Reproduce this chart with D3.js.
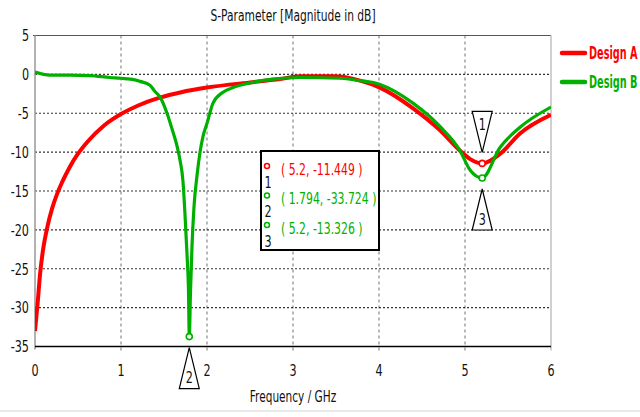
<!DOCTYPE html>
<html><head><meta charset="utf-8">
<script src="https://cdn.jsdelivr.net/npm/d3@7"></script>
<style>
html,body{margin:0;padding:0;background:#fff;}
text{font-family:"DejaVu Sans",sans-serif;}
</style></head><body>
<script>
// ---- data ----
const title = "S-Parameter [Magnitude in dB]";
const xLabel = "Frequency / GHz";
const xTicks = [0,1,2,3,4,5,6];
const yTicks = [5,0,-5,-10,-15,-20,-25,-30,-35];
const seriesNames = ["Design A","Design B"];
const seriesColors = ["#ff0000","#00b000"];
const freqA = [0,0.03,0.058,0.093,0.14,0.2,0.256,0.314,0.4,0.488,0.616,0.8,1.0,1.2,1.45,1.7,2.0,2.53,2.85,3.08,3.47,3.78,4.01,4.4,4.71,4.94,5.06,5.2,5.41,5.64,6.0];
const magA  = [-33,-29.5,-25.8,-22.6,-19.8,-17.2,-15.4,-13.9,-12,-10.4,-8.6,-6.6,-5.1,-4.0,-3.0,-2.3,-1.7,-1.0,-0.6,-0.25,-0.25,-0.8,-1.7,-4.4,-7.2,-9.8,-10.9,-11.449,-10.2,-7.6,-5.2];
const freqB = [0,0.17,0.407,0.64,0.872,1.0,1.163,1.221,1.337,1.395,1.453,1.535,1.593,1.651,1.686,1.721,1.744,1.767,1.785,1.794,1.808,1.826,1.849,1.884,1.919,1.953,2.0,2.07,2.186,2.302,2.5,2.767,3.081,3.547,3.779,4.012,4.395,4.709,4.942,5.058,5.2,5.407,5.64,6.0];
const magB  = [0.3,-0.1,-0.1,-0.15,-0.4,-0.5,-0.7,-0.9,-1.4,-2.2,-2.9,-5,-7,-9.2,-11,-13.8,-18,-23,-28,-33.724,-28,-22,-17,-13,-10,-8,-6.3,-3.7,-2.3,-1.7,-1.1,-0.6,-0.4,-0.5,-0.8,-1.3,-3.7,-6.7,-9.8,-12.3,-13.326,-9.4,-6.8,-4.2];
const markerIds = ["1","2","3"];
const markerX = [5.2,1.794,5.2];
const markerY = [-11.449,-33.724,-13.326];
const markerSeries = [0,1,1];
const markerLabels = ["( 5.2, -11.449 )","( 1.794, -33.724 )","( 5.2, -13.326 )"];

// ---- layout ----
const W=640,H=417;
const m={l:35,r:89,t:35.5,b:70.5};
const SX=0.7; // narrow text look
const svg=d3.select("body").append("svg").attr("width",W).attr("height",H);
const x=d3.scaleLinear().domain([0,6]).range([m.l,W-m.r]);
const y=d3.scaleLinear().domain([-35,5]).range([H-m.b,m.t]);

function txt(px,py,s,opt={}){
  return svg.append("text")
    .attr("transform",`translate(${px},${py}) scale(${opt.sx||SX},1)`)
    .attr("dy","0.36em")
    .attr("text-anchor",opt.anchor||"start")
    .attr("font-size",opt.size||16)
    .attr("font-weight",opt.weight||"normal")
    .attr("fill",opt.fill||"#111").text(s);
}

// footer line
svg.append("line").attr("x1",0).attr("x2",W).attr("y1",411).attr("y2",411).attr("stroke","#e0e0e0").attr("stroke-width",1.5);

// grid
svg.selectAll(".vg").data(xTicks.filter(d=>d>0&&d<6)).join("line")
 .attr("x1",d=>x(d)).attr("x2",d=>x(d)).attr("y1",y(5)).attr("y2",y(-35)+4)
 .attr("stroke","#8a8a8a").attr("stroke-width",1.2).attr("stroke-dasharray","3,3");
svg.selectAll(".hg").data(yTicks.filter(d=>d<5&&d>-35)).join("line")
 .attr("x1",x(0)).attr("x2",x(6)).attr("y1",d=>y(d)).attr("y2",d=>y(d))
 .attr("stroke","#333").attr("stroke-width",1.1).attr("stroke-dasharray","2,2");

// frame
svg.append("line").attr("x1",x(0)-2).attr("x2",x(6)).attr("y1",y(5)).attr("y2",y(5)).attr("stroke","#555").attr("stroke-width",1.2);
svg.append("line").attr("x1",x(6)).attr("x2",x(6)).attr("y1",y(5)).attr("y2",y(-35)+4).attr("stroke","#c0c0c0").attr("stroke-width",1.5);
svg.append("line").attr("x1",x(0)).attr("x2",x(0)).attr("y1",y(5)).attr("y2",y(-35)+3).attr("stroke","#999").attr("stroke-width",1.5);
svg.append("line").attr("x1",x(0)).attr("x2",x(6)).attr("y1",y(-35)).attr("y2",y(-35)).attr("stroke","#000").attr("stroke-width",1.5);

// axis labels
yTicks.forEach(d=>txt(x(0)-6,y(d),d,{anchor:"end"}));
xTicks.forEach(d=>txt(x(d),370,d,{anchor:"middle"}));
txt((x(0)+x(6))/2,396,xLabel,{anchor:"middle",sx:0.66});
txt((x(0)+x(6))/2,15,title,{anchor:"middle",size:15.5,sx:0.69});

// curves
const line=d3.line().x(d=>x(d[0])).y(d=>y(d[1])).curve(d3.curveMonotoneX);
const dataA=freqA.map((f,i)=>[f,magA[i]]);
const dataB=freqB.map((f,i)=>[f,magB[i]]);
svg.append("clipPath").attr("id","pc").append("rect")
 .attr("x",x(0)).attr("y",y(5)).attr("width",x(6)-x(0)).attr("height",y(-35)-y(5));
svg.append("path").datum(dataA).attr("d",line).attr("fill","none").attr("stroke",seriesColors[0]).attr("stroke-width",4).attr("clip-path","url(#pc)");
svg.append("path").datum(dataB).attr("d",line).attr("fill","none").attr("stroke",seriesColors[1]).attr("stroke-width",3.2).attr("clip-path","url(#pc)");

// legend
seriesNames.forEach((n,i)=>{
  const ly=53+i*29;
  svg.append("line").attr("x1",562).attr("x2",585).attr("y1",ly).attr("y2",ly).attr("stroke",seriesColors[i]).attr("stroke-width",4.5).attr("stroke-linecap","round");
  txt(589,ly,n,{size:18,sx:0.54,weight:"bold",fill:seriesColors[i]});
});

// markers
markerIds.forEach((id,i)=>{
  const px=x(markerX[i]), py=y(markerY[i]);
  const col=seriesColors[markerSeries[i]];
  const up = i===0;
  const tip = up? py-11 : py+11;
  const base = up? tip-41 : tip+41;
  svg.append("path").attr("d",`M${px},${tip}L${px-10},${base}L${px+10},${base}Z`)
   .attr("fill","#fff").attr("stroke","#000").attr("stroke-width",1.2);
  txt(px,up? base+13: base-11,id,{anchor:"middle"});
  svg.append("circle").attr("cx",px).attr("cy",py).attr("r",3).attr("fill","#fff").attr("stroke",col).attr("stroke-width",1.6);
});

// marker box
svg.append("rect").attr("x",261).attr("y",151).attr("width",118).attr("height",99).attr("fill","#fff").attr("stroke","#000").attr("stroke-width",2);
markerIds.forEach((id,i)=>{
  const col=seriesColors[markerSeries[i]];
  const ry=169+i*29.5;
  svg.append("circle").attr("cx",267).attr("cy",ry-3).attr("r",2.5).attr("fill","#fff").attr("stroke",col).attr("stroke-width",1.5);
  txt(268,ry+13,id,{anchor:"middle"});
  txt(281,ry,markerLabels[i],{fill:col,sx:0.68});
});
</script>
</body></html>
